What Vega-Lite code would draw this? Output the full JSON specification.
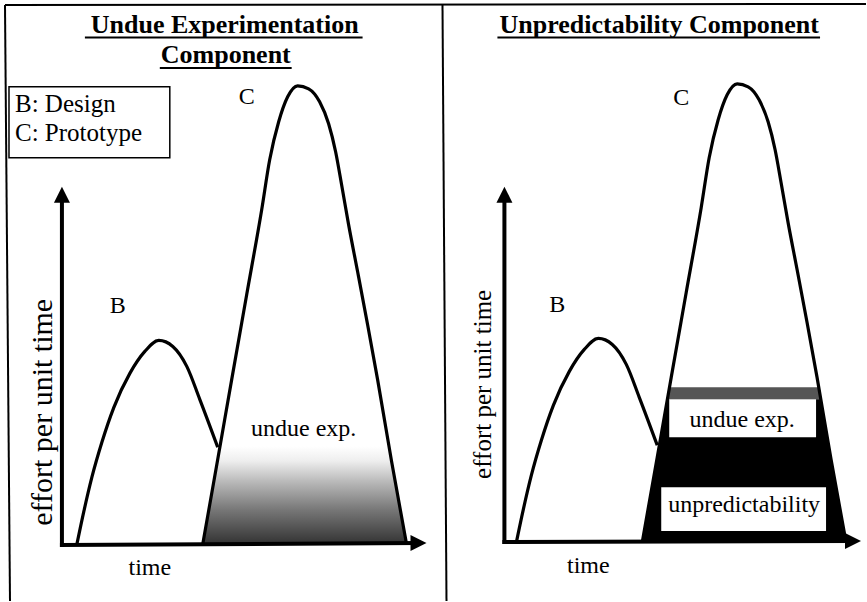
{
  "$schema": "https://vega.github.io/schema/vega-lite/v6.json",
  "width": 867,
  "height": 602,
  "autosize": {"type": "fit", "contains": "padding"},
  "padding": 0,
  "background": "white",
  "config": {"view": {"stroke": null}},
  "encoding": {
    "x": {"field": "x", "type": "quantitative", "scale": {"domain": [0, 867], "nice": false, "zero": false}, "axis": null},
    "y": {"field": "y", "type": "quantitative", "scale": {"domain": [0, 602], "reverse": true, "nice": false, "zero": false}, "axis": null}
  },
  "layer": [
    {
      "data": {"values": [{"y": 447, "x": 220, "x2": 389}, {"y": 545, "x": 203, "x2": 407}]},
      "mark": {"type": "area", "orient": "horizontal", "fill": {"gradient": "linear", "x1": 0, "y1": 0, "x2": 0, "y2": 1, "stops": [{"offset": 0, "color": "#ffffff"}, {"offset": 0.15, "color": "#eeeeee"}, {"offset": 0.35, "color": "#bcbcbc"}, {"offset": 0.65, "color": "#777777"}, {"offset": 1, "color": "#333333"}]}},
      "encoding": {"x2": {"field": "x2"}}
    },
    {
      "data": {"values": [{"y": 388, "x": 670, "x2": 819}, {"y": 400, "x": 668, "x2": 821}]},
      "mark": {"type": "area", "orient": "horizontal", "fill": "#555555"},
      "encoding": {"x2": {"field": "x2"}}
    },
    {
      "data": {"values": [{"y": 400, "x": 668, "x2": 821}, {"y": 543, "x": 643, "x2": 847}]},
      "mark": {"type": "area", "orient": "horizontal", "fill": "#000000"},
      "encoding": {"x2": {"field": "x2"}}
    },
    {
      "data": {"values": [{"x": 670, "x2": 817, "y": 400, "y2": 438}, {"x": 662, "x2": 827, "y": 488, "y2": 532}]},
      "mark": {"type": "rect", "fill": "#ffffff", "stroke": null},
      "encoding": {"x2": {"field": "x2"}, "y2": {"field": "y2"}}
    },
    {
      "data": {"values": [{"x": 9, "x2": 170, "y": 87, "y2": 158}]},
      "mark": {"type": "rect", "fill": "#ffffff", "stroke": "#000000", "strokeWidth": 1.5},
      "encoding": {"x2": {"field": "x2"}, "y2": {"field": "y2"}}
    },
    {
      "data": {"values": [
        {"x": 5, "y": 5, "x2": 867, "y2": 4},
        {"x": 5, "y": 5, "x2": 10, "y2": 602},
        {"x": 443, "y": 4, "x2": 447, "y2": 602}
      ]},
      "mark": {"type": "rule", "color": "#000000", "strokeWidth": 2},
      "encoding": {"x2": {"field": "x2"}, "y2": {"field": "y2"}}
    },
    {
      "data": {"values": [
        {"x": 62, "y": 546, "x2": 62, "y2": 198},
        {"x": 62, "y": 546, "x2": 418, "y2": 544},
        {"x": 505, "y": 543, "x2": 505, "y2": 198},
        {"x": 505, "y": 543, "x2": 852, "y2": 542}
      ]},
      "mark": {"type": "rule", "color": "#000000", "strokeWidth": 4, "strokeCap": "square"},
      "encoding": {"x2": {"field": "x2"}, "y2": {"field": "y2"}}
    },
    {
      "data": {"values": [{"x": 62, "y": 195}, {"x": 505, "y": 195}]},
      "mark": {"type": "point", "shape": "M0,-1L-1,1L1,1Z", "filled": true, "size": 256, "color": "#000000", "opacity": 1, "strokeWidth": 0}
    },
    {
      "data": {"values": [{"x": 419, "y": 544}, {"x": 854, "y": 542}]},
      "mark": {"type": "point", "shape": "M1,0L-1,-1L-1,1Z", "filled": true, "size": 256, "color": "#000000", "opacity": 1, "strokeWidth": 0}
    },
    {
      "data": {"values": [
        {"s": "LB", "x": 77, "y": 545}, {"s": "LB", "x": 84, "y": 512}, {"s": "LB", "x": 92, "y": 478}, {"s": "LB", "x": 102, "y": 443}, {"s": "LB", "x": 114, "y": 408}, {"s": "LB", "x": 130, "y": 374}, {"s": "LB", "x": 145, "y": 352}, {"s": "LB", "x": 159, "y": 341}, {"s": "LB", "x": 173, "y": 347}, {"s": "LB", "x": 187, "y": 367}, {"s": "LB", "x": 200, "y": 400}, {"s": "LB", "x": 218, "y": 448},
        {"s": "LC", "x": 203, "y": 545}, {"s": "LC", "x": 218, "y": 460}, {"s": "LC", "x": 232, "y": 380}, {"s": "LC", "x": 247, "y": 295}, {"s": "LC", "x": 262, "y": 210}, {"s": "LC", "x": 270, "y": 160}, {"s": "LC", "x": 279, "y": 122}, {"s": "LC", "x": 288, "y": 97}, {"s": "LC", "x": 298, "y": 86}, {"s": "LC", "x": 309, "y": 89}, {"s": "LC", "x": 320, "y": 102}, {"s": "LC", "x": 329, "y": 124}, {"s": "LC", "x": 336, "y": 152}, {"s": "LC", "x": 342, "y": 185}, {"s": "LC", "x": 349, "y": 225}, {"s": "LC", "x": 358, "y": 272}, {"s": "LC", "x": 368, "y": 325}, {"s": "LC", "x": 378, "y": 380}, {"s": "LC", "x": 392, "y": 462}, {"s": "LC", "x": 407, "y": 545},
        {"s": "RB", "x": 517, "y": 543}, {"s": "RB", "x": 524, "y": 510}, {"s": "RB", "x": 532, "y": 476}, {"s": "RB", "x": 542, "y": 441}, {"s": "RB", "x": 554, "y": 406}, {"s": "RB", "x": 570, "y": 372}, {"s": "RB", "x": 585, "y": 350}, {"s": "RB", "x": 599, "y": 339}, {"s": "RB", "x": 613, "y": 345}, {"s": "RB", "x": 627, "y": 365}, {"s": "RB", "x": 640, "y": 398}, {"s": "RB", "x": 658, "y": 446},
        {"s": "RC", "x": 643, "y": 543}, {"s": "RC", "x": 658, "y": 458}, {"s": "RC", "x": 672, "y": 378}, {"s": "RC", "x": 687, "y": 293}, {"s": "RC", "x": 702, "y": 208}, {"s": "RC", "x": 710, "y": 158}, {"s": "RC", "x": 719, "y": 120}, {"s": "RC", "x": 728, "y": 95}, {"s": "RC", "x": 738, "y": 84}, {"s": "RC", "x": 749, "y": 87}, {"s": "RC", "x": 760, "y": 100}, {"s": "RC", "x": 769, "y": 122}, {"s": "RC", "x": 776, "y": 150}, {"s": "RC", "x": 782, "y": 183}, {"s": "RC", "x": 789, "y": 223}, {"s": "RC", "x": 798, "y": 270}, {"s": "RC", "x": 808, "y": 323}, {"s": "RC", "x": 818, "y": 378}, {"s": "RC", "x": 832, "y": 460}, {"s": "RC", "x": 847, "y": 543}
      ]},
      "mark": {"type": "line", "interpolate": "monotone", "strokeWidth": 3.2, "color": "#000000"},
      "encoding": {"detail": {"field": "s", "type": "nominal"}}
    },
    {
      "data": {"values": [
        {"x": 85, "y": 37.5, "x2": 363, "y2": 37.5},
        {"x": 160, "y": 68, "x2": 292, "y2": 68},
        {"x": 498, "y": 37.5, "x2": 821, "y2": 37.5}
      ]},
      "mark": {"type": "rule", "color": "#000000", "strokeWidth": 2},
      "encoding": {"x2": {"field": "x2"}, "y2": {"field": "y2"}}
    },
    {
      "data": {"values": [
        {"x": 225, "y": 33, "t": "Undue Experimentation"},
        {"x": 226, "y": 63, "t": "Component"},
        {"x": 660, "y": 33, "t": "Unpredictability Component"}
      ]},
      "mark": {"type": "text", "font": "Liberation Serif, Times New Roman, serif", "fontSize": 26, "fontWeight": "bold", "align": "center", "baseline": "alphabetic", "color": "#000000"},
      "encoding": {"text": {"field": "t"}}
    },
    {
      "data": {"values": [
        {"x": 15, "y": 112, "t": "B: Design"},
        {"x": 15, "y": 141, "t": "C: Prototype"}
      ]},
      "mark": {"type": "text", "font": "Liberation Serif, Times New Roman, serif", "fontSize": 25, "align": "left", "baseline": "alphabetic", "color": "#000000"},
      "encoding": {"text": {"field": "t"}}
    },
    {
      "data": {"values": [
        {"x": 118, "y": 314, "t": "B"},
        {"x": 558, "y": 313, "t": "B"},
        {"x": 247, "y": 104, "t": "C"},
        {"x": 682, "y": 105, "t": "C"},
        {"x": 150, "y": 576, "t": "time"},
        {"x": 589, "y": 574, "t": "time"},
        {"x": 304, "y": 437, "t": "undue exp."},
        {"x": 743, "y": 428, "t": "undue exp."},
        {"x": 745, "y": 513, "t": "unpredictability"}
      ]},
      "mark": {"type": "text", "font": "Liberation Serif, Times New Roman, serif", "fontSize": 24, "align": "center", "baseline": "alphabetic", "color": "#000000"},
      "encoding": {"text": {"field": "t"}}
    },
    {
      "data": {"values": [{"x": 43, "y": 413, "t": "effort per unit time"}]},
      "mark": {"type": "text", "font": "Liberation Serif, Times New Roman, serif", "fontSize": 30, "angle": 270, "align": "center", "baseline": "middle", "color": "#000000"},
      "encoding": {"text": {"field": "t"}}
    },
    {
      "data": {"values": [{"x": 484, "y": 385, "t": "effort per unit time"}]},
      "mark": {"type": "text", "font": "Liberation Serif, Times New Roman, serif", "fontSize": 25, "angle": 270, "align": "center", "baseline": "middle", "color": "#000000"},
      "encoding": {"text": {"field": "t"}}
    }
  ]
}
